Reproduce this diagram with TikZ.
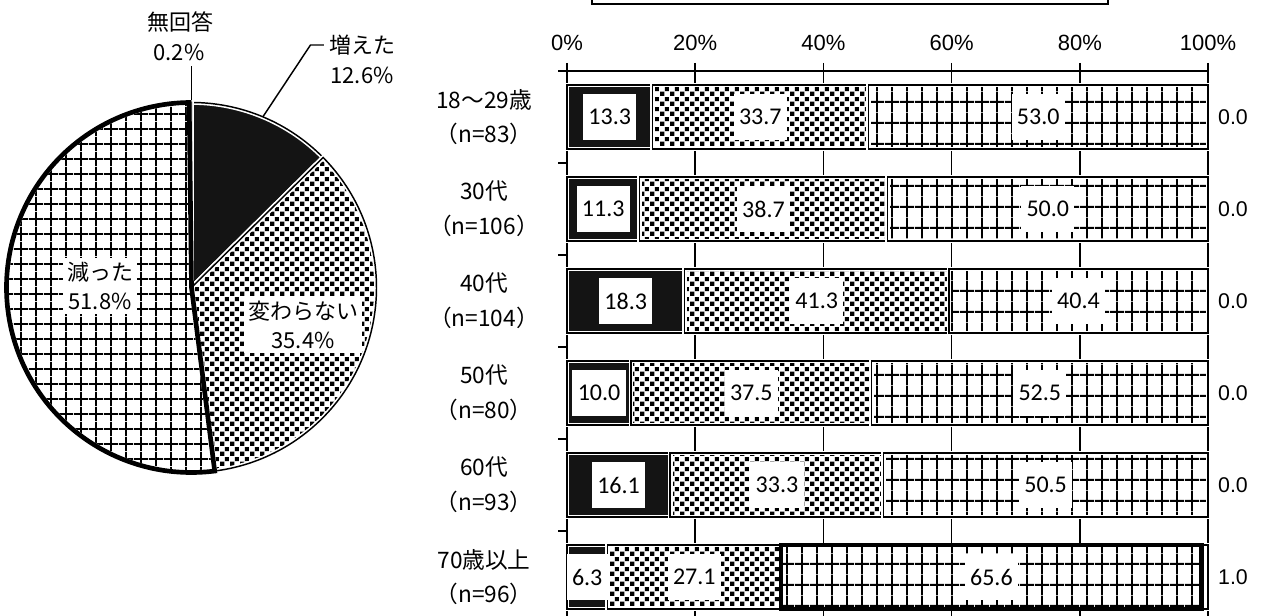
\documentclass[tikz,border=0pt]{standalone}
\usepackage{fontspec}
\setmainfont{Carlito}
\newfontfamily\jp{Noto Sans CJK JP}
\newfontfamily\arial{Liberation Sans}
\usetikzlibrary{patterns}

% Fill patterns

\pgfdeclarepatternformonly{checks}{\pgfpointorigin}{\pgfqpoint{7.5pt}{7.5pt}}{\pgfqpoint{7.5pt}{7.5pt}}
{
	\pgfpathrectangle{\pgfqpoint{0.2pt}{0.2pt}}{\pgfqpoint{3.35pt}{3.35pt}}
	\pgfpathrectangle{\pgfqpoint{3.95pt}{3.95pt}}{\pgfqpoint{3.35pt}{3.35pt}}
	\pgfusepath{fill}
}

\pgfdeclarepatternformonly{piegrid}{\pgfpointorigin}{\pgfqpoint{11.25pt}{11.25pt}}{\pgfqpoint{11.25pt}{11.25pt}}
{
	\pgfsetlinewidth{1.4pt}
	\pgfpathmoveto{\pgfqpoint{5.625pt}{0pt}}
	\pgfpathlineto{\pgfqpoint{5.625pt}{11.25pt}}
	\pgfpathmoveto{\pgfqpoint{0pt}{5.625pt}}
	\pgfpathlineto{\pgfqpoint{11.25pt}{5.625pt}}
	\pgfusepath{stroke}
}

\pgfdeclarepatternformonly{bargrid}{\pgfpointorigin}{\pgfqpoint{11.25pt}{15.75pt}}{\pgfqpoint{11.25pt}{15.75pt}}
{
	\pgfsetlinewidth{1.4pt}
	\pgfpathmoveto{\pgfqpoint{5.625pt}{0pt}}
	\pgfpathlineto{\pgfqpoint{5.625pt}{15.75pt}}
	\pgfpathmoveto{\pgfqpoint{0pt}{7.875pt}}
	\pgfpathlineto{\pgfqpoint{11.25pt}{7.875pt}}
	\pgfusepath{stroke}
}

\begin{document}
\begin{tikzpicture}[x = 0.75pt, y = 0.75pt, line width = 1.1pt,
	seg/.style = {preaction = {fill = white}, postaction = {draw = white, line width = 3.5pt}, postaction = {draw = black, line width = 1.1pt}},
	thickseg/.style = {postaction = {draw = black, line width = 3.5pt}},
	dark/.style = {fill = black!92},
	val/.style = {fill = white, font = \fontsize{18}{20}\selectfont, inner xsep = 4pt, minimum height = 34pt},
	side/.style = {font = \arial\fontsize{16}{18}\selectfont},
	axis/.style = {font = \arial\fontsize{16.5}{18}\selectfont},
	cat/.style = {font = \jp\fontsize{17}{26}\selectfont, align = center},
	pietext/.style = {font = \jp\fontsize{16.5}{22}\selectfont, align = center}]

\useasboundingbox (0, 0) rectangle (1261, 616);

	% Legend box (cut off)
	
	\draw (592, 630) rectangle (1108, 612);

	% Pie
	
	\coordinate (O) at (191.5, 328.5);
	\path [seg, dark] (O) -- ++(90:185) arc [start angle = 90, end angle = 44.64, radius = 185] -- cycle;
	\path [seg, pattern = checks] (O) -- ++(44.64:185) arc [start angle = 44.64, end angle = -82.8, radius = 185] -- cycle;
	\path [seg, fill = white] (O) -- ++(90.72:185) arc [start angle = 90.72, end angle = 90, radius = 185] -- cycle;
	\path [seg, thickseg, pattern = piegrid] (O) -- ++(-82.8:185) arc [start angle = -82.8, end angle = -269.28, radius = 185] -- cycle;
	
	% Pie labels
	
	\node [pietext, fill = white] (dec) at (100, 330) {減った\\51.8\%};
	\node [pietext, fill = white] (same) at (303, 291) {変わらない\\35.4\%};
	\node [pietext] (inc) at (362, 571) {増えた};
	\node [pietext] (incpct) at (362, 541) {12.6\%};
	\node [pietext] (none) at (180, 594) {無回答};
	\node [pietext] (nonepct) at (179, 564) {0.2\%};
	
	% Leaders
	
	\path (O) ++(67.3:185) coordinate (incedge);
	\path (O) ++(90:187) coordinate (nonetop);
	\draw (incedge) -- ([xshift = -10pt]inc.west) -- (inc.west);
	\draw (nonetop) -- (nonetop |- nonepct.south);

	% Axes
	
	\draw (567, 553) -- (567, 0) (695.2, 553) -- (695.2, 0) (823.4, 553) -- (823.4, 0)
		(951.6, 553) -- (951.6, 0) (1079.8, 553) -- (1079.8, 0) (1208, 553) -- (1208, 0);
	\draw (567, 545) -- (1208, 545);
	\draw (558, 545) -- (567, 545) (558, 453) -- (567, 453) (558, 361) -- (567, 361)
		(558, 269) -- (567, 269) (558, 177) -- (567, 177) (558, 85) -- (567, 85);
	\node [axis] (p0) at (567, 573) {0\%};
	\node [axis] (p20) at (695.2, 573) {20\%};
	\node [axis] (p40) at (823.4, 573) {40\%};
	\node [axis] (p60) at (951.6, 573) {60\%};
	\node [axis] (p80) at (1079.8, 573) {80\%};
	\node [axis] (p100) at (1208, 573) {100\%};

	% Bars: 18~29
	
	\path [seg, dark] (567, 467) rectangle (652.3, 531);
	\path [seg, pattern = checks] (652.3, 467) rectangle (868.3, 531);
	\path [seg, pattern = bargrid] (868.3, 467) rectangle (1208, 531);
	\node [val] (r1a) at (609.7, 499) {13.3};
	\node [val] (r1b) at (760.3, 499) {33.7};
	\node [val] (r1c) at (1038.2, 499) {53.0};
	\node [side] (r1d) at (1233, 499) {0.0};
	\node [cat] (r1) at (484, 499) {18〜29歳\\（n=83）};

	% Bars: 30
	
	\path [seg, dark] (567, 375) rectangle (639.4, 439);
	\path [seg, pattern = checks] (639.4, 375) rectangle (887.5, 439);
	\path [seg, pattern = bargrid] (887.5, 375) rectangle (1208, 439);
	\node [val] (r2a) at (603.2, 407) {11.3};
	\node [val] (r2b) at (763.5, 407) {38.7};
	\node [val] (r2c) at (1047.8, 407) {50.0};
	\node [side] (r2d) at (1233, 407) {0.0};
	\node [cat] (r2) at (484, 407) {30代\\（n=106）};

	% Bars: 40
	
	\path [seg, dark] (567, 283) rectangle (684.3, 347);
	\path [seg, pattern = checks] (684.3, 283) rectangle (949, 347);
	\path [seg, pattern = bargrid] (949, 283) rectangle (1208, 347);
	\node [val] (r3a) at (625.7, 315) {18.3};
	\node [val] (r3b) at (816.7, 315) {41.3};
	\node [val] (r3c) at (1078.5, 315) {40.4};
	\node [side] (r3d) at (1233, 315) {0.0};
	\node [cat] (r3) at (484, 315) {40代\\（n=104）};

	% Bars: 50
	
	\path [seg, dark] (567, 191) rectangle (631.1, 255);
	\path [seg, pattern = checks] (631.1, 191) rectangle (871.5, 255);
	\path [seg, pattern = bargrid] (871.5, 191) rectangle (1208, 255);
	\node [val] (r4a) at (599.1, 223) {10.0};
	\node [val] (r4b) at (751.3, 223) {37.5};
	\node [val] (r4c) at (1039.8, 223) {52.5};
	\node [side] (r4d) at (1233, 223) {0.0};
	\node [cat] (r4) at (484, 223) {50代\\（n=80）};

	% Bars: 60
	
	\path [seg, dark] (567, 99) rectangle (670.2, 163);
	\path [seg, pattern = checks] (670.2, 99) rectangle (883.7, 163);
	\path [seg, pattern = bargrid] (883.7, 99) rectangle (1208, 163);
	\node [val] (r5a) at (618.6, 131) {16.1};
	\node [val] (r5b) at (777, 131) {33.3};
	\node [val] (r5c) at (1045.6, 131) {50.5};
	\node [side] (r5d) at (1233, 131) {0.0};
	\node [cat] (r5) at (484, 131) {60代\\（n=93）};

	% Bars: 70+
	
	\path [seg, dark] (567, 7) rectangle (607.4, 71);
	\path [seg, pattern = checks] (607.4, 7) rectangle (781.1, 71);
	\path [seg, fill = white] (1201.6, 7) rectangle (1208, 71);
	\path [seg, thickseg, pattern = bargrid] (781.1, 7) rectangle (1201.6, 71);
	\node [val] (r6a) at (587.2, 39) {6.3};
	\node [val] (r6b) at (694.3, 39) {27.1};
	\node [val] (r6c) at (991.4, 39) {65.6};
	\node [side] (r6d) at (1233, 39) {1.0};
	\node [cat] (r6) at (484, 39) {70歳以上\\（n=96）};

\end{tikzpicture}
\end{document}
